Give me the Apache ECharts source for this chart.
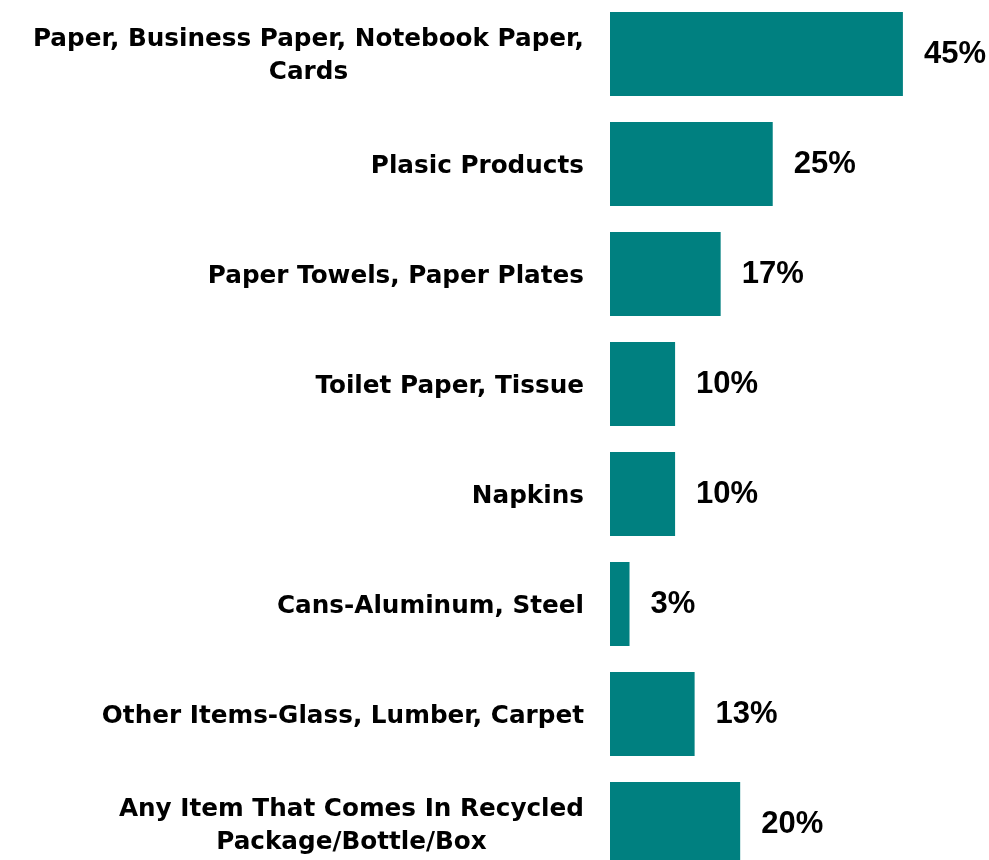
<!DOCTYPE html>
<html>
<head>
<meta charset="utf-8">
<script src="https://cdn.jsdelivr.net/npm/echarts@6/dist/echarts.min.js"></script>
<style>
html,body{margin:0;padding:0;background:#fff;}
#chart{width:989px;height:860px;}
</style>
</head>
<body>
<div id="chart"></div>
<script>
const categories = [
  'Paper, Business Paper, Notebook Paper,\nCards',
  'Plasic Products',
  'Paper Towels, Paper Plates',
  'Toilet Paper, Tissue',
  'Napkins',
  'Cans-Aluminum, Steel',
  'Other Items-Glass, Lumber, Carpet',
  'Any Item That Comes In Recycled\nPackage/Bottle/Box'
];
const values = [45, 25, 17, 10, 10, 3, 13, 20];

const chart = echarts.init(document.getElementById('chart'), null, {renderer: 'canvas'});
const catFont = {fontFamily: 'DejaVu Sans', fontWeight: 'bold', fontSize: 24.7, color: '#000', lineHeight: 33};
chart.setOption({
  animation: false,
  backgroundColor: '#fff',
  grid: {left: 610, top: -1, width: 358, height: 880, containLabel: false, outerBoundsMode: 'none'},
  xAxis: {
    type: 'value', min: 0, max: 55,
    show: false
  },
  yAxis: {
    type: 'category',
    inverse: true,
    data: categories,
    axisLine: {show: false},
    axisTick: {show: false},
    splitLine: {show: false},
    axisLabel: {
      margin: 26,
      align: 'right',
      interval: 0,
      hideOverlap: false,
      padding: [5, 0, 0, 0],
      fontFamily: catFont.fontFamily, fontWeight: 'bold', fontSize: catFont.fontSize, color: '#000', lineHeight: catFont.lineHeight,
      formatter: function (v) {
        return v.split('\n').map(function (l) { return '{c|' + l + '}'; }).join('\n');
      },
      rich: {
        c: Object.assign({align: 'center'}, catFont)
      }
    }
  },
  series: [{
    type: 'bar',
    data: values,
    barWidth: 84,
    itemStyle: {color: '#008080'},
    label: {
      show: true,
      position: 'right',
      distance: 21,
      formatter: '{c}%',
      fontFamily: 'Liberation Sans',
      fontWeight: 'bold',
      fontSize: 31,
      color: '#000'
    }
  }]
});
</script>
</body>
</html>
